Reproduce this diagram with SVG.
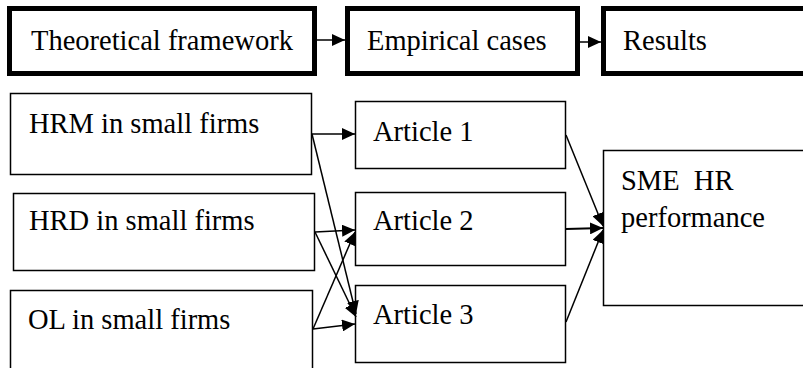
<svg xmlns="http://www.w3.org/2000/svg" width="803" height="368" viewBox="0 0 803 368">
  <style>
    .stage { fill: #ffffff; stroke: #000000; stroke-width: 5; }
    .box { fill: #ffffff; stroke: #000000; stroke-width: 1.5; }
    .label { font-family: 'Liberation Serif', 'Times New Roman', Times, serif; font-size: 28.5px; fill: #000000; }
    .link { fill: none; stroke: #000000; stroke-width: 1.5; }
    .link-bold { fill: none; stroke: #000000; stroke-width: 2.2; }
  </style>
  <defs>
    <marker id="arrow" markerUnits="userSpaceOnUse" markerWidth="14" markerHeight="12" refX="13" refY="6" orient="auto">
      <path d="M0,0 L13,6 L0,12 Z" fill="#000000"/>
    </marker>
  </defs>
  <rect width="803" height="368" fill="#ffffff"/>

  <!-- process stages -->
  <g id="stage-theory">
    <rect class="stage" x="9.5" y="8.5" width="305" height="65"/>
    <text class="label" x="31" y="50">Theoretical framework</text>
  </g>
  <g id="stage-empirical">
    <rect class="stage" x="347.5" y="8.5" width="230" height="65"/>
    <text class="label" x="367" y="50">Empirical cases</text>
  </g>
  <g id="stage-results">
    <rect class="stage" x="603.5" y="8.5" width="300" height="65"/>
    <text class="label" x="623" y="50">Results</text>
  </g>

  <!-- theoretical areas -->
  <g id="hrm">
    <rect class="box" x="10.5" y="93.5" width="301" height="81"/>
    <text class="label" x="29" y="133">HRM in small firms</text>
  </g>
  <g id="hrd">
    <rect class="box" x="13.5" y="193.5" width="301" height="77"/>
    <text class="label" x="29" y="230">HRD in small firms</text>
  </g>
  <g id="ol">
    <rect class="box" x="10.5" y="290.5" width="302" height="100"/>
    <text class="label" x="28" y="329">OL in small firms</text>
  </g>

  <!-- empirical articles -->
  <g id="article-1">
    <rect class="box" x="355.5" y="101.5" width="210" height="67"/>
    <text class="label" x="373" y="141">Article 1</text>
  </g>
  <g id="article-2">
    <rect class="box" x="355.5" y="192.5" width="210" height="73"/>
    <text class="label" x="373" y="230">Article 2</text>
  </g>
  <g id="article-3">
    <rect class="box" x="355.5" y="285.5" width="210" height="77"/>
    <text class="label" x="373" y="324">Article 3</text>
  </g>

  <!-- outcome -->
  <g id="sme-hr">
    <rect class="box" x="603.5" y="150.5" width="300" height="155"/>
    <text class="label" x="621" y="190" xml:space="preserve">SME  HR</text>
    <text class="label" x="621" y="227">performance</text>
  </g>

  <!-- connectors -->
  <g id="connectors">
    <line class="link" x1="317" y1="40" x2="345" y2="40" marker-end="url(#arrow)"/>
    <line class="link" x1="580" y1="42" x2="601" y2="42" marker-end="url(#arrow)"/>

    <line class="link" x1="312" y1="134" x2="355" y2="134" marker-end="url(#arrow)"/>
    <line class="link" x1="312" y1="134" x2="356" y2="314" marker-end="url(#arrow)"/>
    <line class="link" x1="315" y1="232" x2="355" y2="230" marker-end="url(#arrow)"/>
    <line class="link" x1="315" y1="232" x2="356" y2="317" marker-end="url(#arrow)"/>
    <line class="link" x1="313" y1="329" x2="355" y2="232" marker-end="url(#arrow)"/>
    <line class="link" x1="313" y1="329" x2="355" y2="324" marker-end="url(#arrow)"/>

    <line class="link" x1="566" y1="135" x2="603" y2="226" marker-end="url(#arrow)"/>
    <line class="link-bold" x1="566" y1="229" x2="603" y2="228" marker-end="url(#arrow)"/>
    <line class="link" x1="566" y1="322" x2="603" y2="230" marker-end="url(#arrow)"/>
  </g>
</svg>
